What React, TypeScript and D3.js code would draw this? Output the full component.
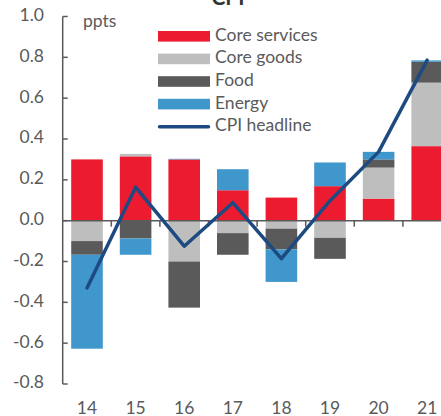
import React from "react";
import * as d3 from "d3";

const width = 441;
const height = 416;

const years = ["14", "15", "16", "17", "18", "19", "20", "21"];
const coreServices = [0.3, 0.315, 0.3, 0.149, 0.113, 0.169, 0.108, 0.365];
const coreGoods = [-0.1, 0.012, -0.2, -0.061, -0.039, -0.084, 0.152, 0.311];
const food = [-0.067, -0.087, -0.226, -0.106, -0.102, -0.103, 0.04, 0.102];
const energy = [-0.46, -0.08, 0.003, 0.103, -0.159, 0.116, 0.037, 0.007];
const cpiHeadline = [-0.33, 0.164, -0.125, 0.088, -0.186, 0.098, 0.337, 0.786];
const yTicks = [-0.8, -0.6, -0.4, -0.2, 0, 0.2, 0.4, 0.6, 0.8, 1.0];

const seriesNames = ["Core services", "Core goods", "Food", "Energy"];
const seriesColors = ["#ED1B2F", "#BEBEBE", "#5A5A5A", "#3F97CB"];
const lineColor = "#1D4A80";
const axisColor = "#5A5A5A";
const font = "Lato, 'Open Sans', sans-serif";

export default function App() {
  const x = d3
    .scaleBand<string>()
    .domain(years)
    .range([62.7, 451.5])
    .paddingInner(0.35)
    .paddingOuter(0.175);
  const y = d3.scaleLinear().domain([-0.8, 1.0]).range([384, 16.5]);

  // rows for the stack
  const rows = years.map((yr, i) => ({
    year: yr,
    "Core services": coreServices[i],
    "Core goods": coreGoods[i],
    Food: food[i],
    Energy: energy[i],
  }));
  const stacked = d3
    .stack<any>()
    .keys(seriesNames)
    .offset(d3.stackOffsetDiverging)(rows);

  const line = d3
    .line<number>()
    .x((_, i) => (x(years[i]) as number) + x.bandwidth() / 2)
    .y((d) => y(d));

  const step = x.step();
  const x0 = x.range()[0];

  return (
    <svg
      width={width}
      height={height}
      style={{ position: "absolute", left: 0, top: 0, background: "#fff" }}
      fontFamily={font}
    >
      <text x={228} y={5} textAnchor="middle" fontSize={21} fontWeight="bold" fill="#333">
        CPI
      </text>

      {/* bars */}
      {stacked.map((s, si) =>
        s.map((d, i) => (
          <rect
            key={`${si}-${i}`}
            x={x(years[i])}
            width={x.bandwidth()}
            y={y(Math.max(d[0], d[1]))}
            height={Math.abs(y(d[0]) - y(d[1]))}
            fill={seriesColors[si]}
          />
        ))
      )}

      {/* x axis */}
      <line x1={x0} x2={width} y1={y(0)} y2={y(0)} stroke={axisColor} strokeWidth={1.5} />
      {years.map((_, i) => (
        <line
          key={i}
          x1={x0 + (i + 1) * step}
          x2={x0 + (i + 1) * step}
          y1={y(0)}
          y2={y(0) + 6}
          stroke={axisColor}
          strokeWidth={1.5}
        />
      ))}
      {years.map((yr) => (
        <text
          key={yr}
          x={(x(yr) as number) + x.bandwidth() / 2}
          y={414}
          textAnchor="middle"
          fontSize={17.5}
          fill={axisColor}
        >
          {yr}
        </text>
      ))}

      {/* y axis */}
      <line x1={x0} x2={x0} y1={y(1.0)} y2={y(-0.8)} stroke={axisColor} strokeWidth={1.5} />
      {yTicks.map((t) => (
        <g key={t}>
          <line x1={x0} x2={x0 + 5} y1={y(t)} y2={y(t)} stroke={axisColor} strokeWidth={1.5} />
          <text
            x={44}
            y={y(t)}
            textAnchor="end"
            dominantBaseline="middle"
            fontSize={17.5}
            fill={axisColor}
          >
            {t.toFixed(1)}
          </text>
        </g>
      ))}
      <text x={83} y={27} fontSize={17.5} fill={axisColor}>
        ppts
      </text>

      {/* CPI headline */}
      <path
        d={line(cpiHeadline) || ""}
        fill="none"
        stroke={lineColor}
        strokeWidth={3.5}
        strokeLinejoin="round"
        strokeLinecap="round"
      />

      {/* legend */}
      {seriesNames.map((n, i) => (
        <g key={n} transform={`translate(158, ${36.3 + i * 22.6})`}>
          <rect x={0} y={-5.3} width={52} height={10.6} fill={seriesColors[i]} />
          <text x={57} y={0} dominantBaseline="middle" fontSize={17.5} fill={axisColor}>
            {n}
          </text>
        </g>
      ))}
      <g transform={`translate(158, ${36.3 + 4 * 22.6})`}>
        <line x1={1.5} x2={50.5} y1={0} y2={0} stroke={lineColor} strokeWidth={3.5} strokeLinecap="round" />
        <text x={57} y={0} dominantBaseline="middle" fontSize={17.5} fill={axisColor}>
          CPI headline
        </text>
      </g>
    </svg>
  );
}
